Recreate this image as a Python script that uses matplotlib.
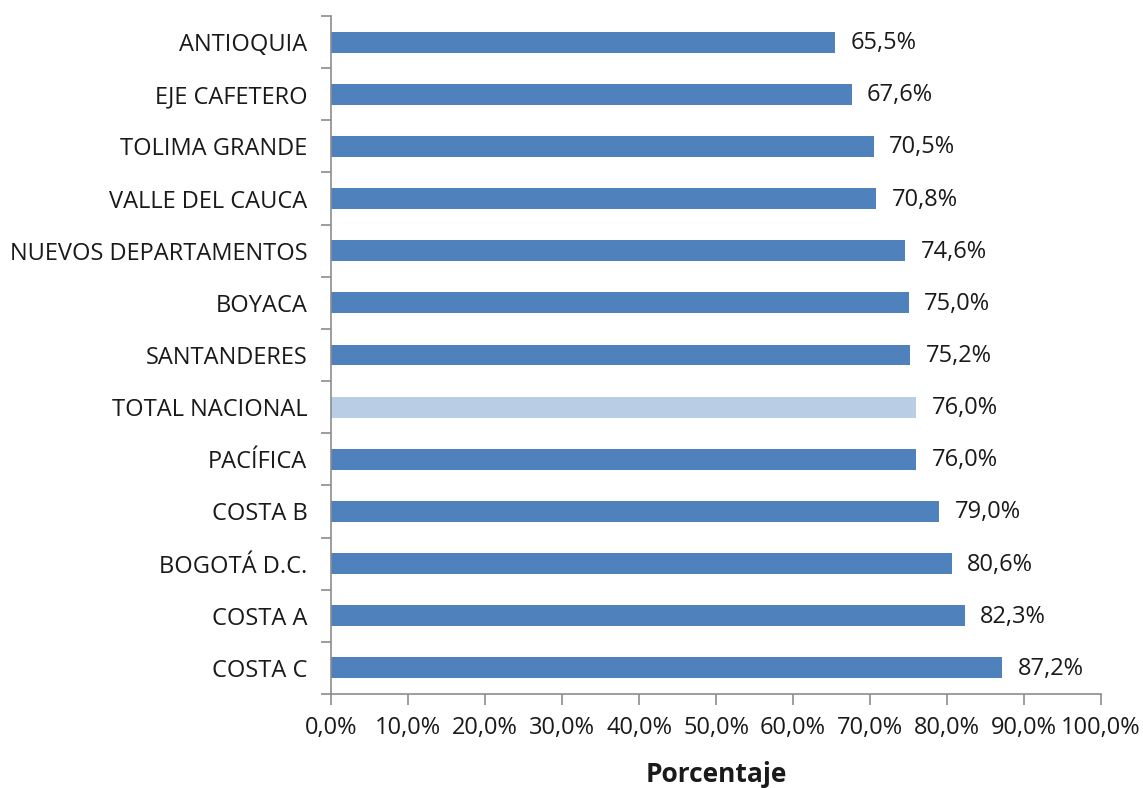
import numpy as np
import matplotlib
matplotlib.use("Agg")
import matplotlib.pyplot as plt
from matplotlib.ticker import FixedLocator

plt.rcParams['font.family'] = ['Open Sans', 'DejaVu Sans']

# --- Datos ---
regiones = ["ANTIOQUIA", "EJE CAFETERO", "TOLIMA GRANDE", "VALLE DEL CAUCA",
            "NUEVOS DEPARTAMENTOS", "BOYACA", "SANTANDERES", "TOTAL NACIONAL",
            "PACÍFICA", "COSTA B", "BOGOTÁ D.C.", "COSTA A", "COSTA C"]
porcentajes = [65.5, 67.6, 70.5, 70.8, 74.6, 75.0, 75.2, 76.0, 76.0, 79.0, 80.6, 82.3, 87.2]
destacado = "TOTAL NACIONAL"

azul = "#4F81BD"
azul_claro = "#B9CDE5"
gris = "#8C8C8C"
texto = "#1a1a1a"

fig = plt.figure(figsize=(11.43, 7.88), dpi=100)
ax = fig.add_axes([0.2896, 0.1193, 0.6737, 0.8604])

n = len(regiones)
y = np.arange(n)
colores = [azul_claro if r == destacado else azul for r in regiones]
ax.barh(y, porcentajes, height=0.4, color=colores, edgecolor="none")

for yi, v in zip(y, porcentajes):
    ax.text(v + 2.0, yi + 0.02, f"{v:.1f}%".replace(".", ","), va="center", ha="left",
            fontsize=17, color=texto)

ax.set_xlim(0, 100)
ax.set_ylim(n - 0.5, -0.5)
ax.set_xticks(np.arange(0, 101, 10))
ax.set_xticklabels([f"{t:.1f}%".replace(".", ",") for t in np.arange(0, 101, 10)],
                   fontsize=17, color=texto)
ax.set_yticks(y)
ax.set_yticklabels(regiones, fontsize=17, color=texto)
ax.yaxis.set_minor_locator(FixedLocator(np.arange(-0.5, n, 1.0)))
ax.tick_params(axis="y", which="major", length=0, pad=17)
ax.tick_params(axis="y", which="minor", length=7, color=gris, width=1.2)
ax.tick_params(axis="x", which="major", length=8, color=gris, width=1.2, pad=8)

for s in ["top", "right"]:
    ax.spines[s].set_visible(False)
for s in ["left", "bottom"]:
    ax.spines[s].set_color(gris)
    ax.spines[s].set_linewidth(1.2)

ax.set_xlabel("Porcentaje", fontsize=19, fontweight="bold", labelpad=15, color=texto)

fig.savefig("out.png", dpi=100)
